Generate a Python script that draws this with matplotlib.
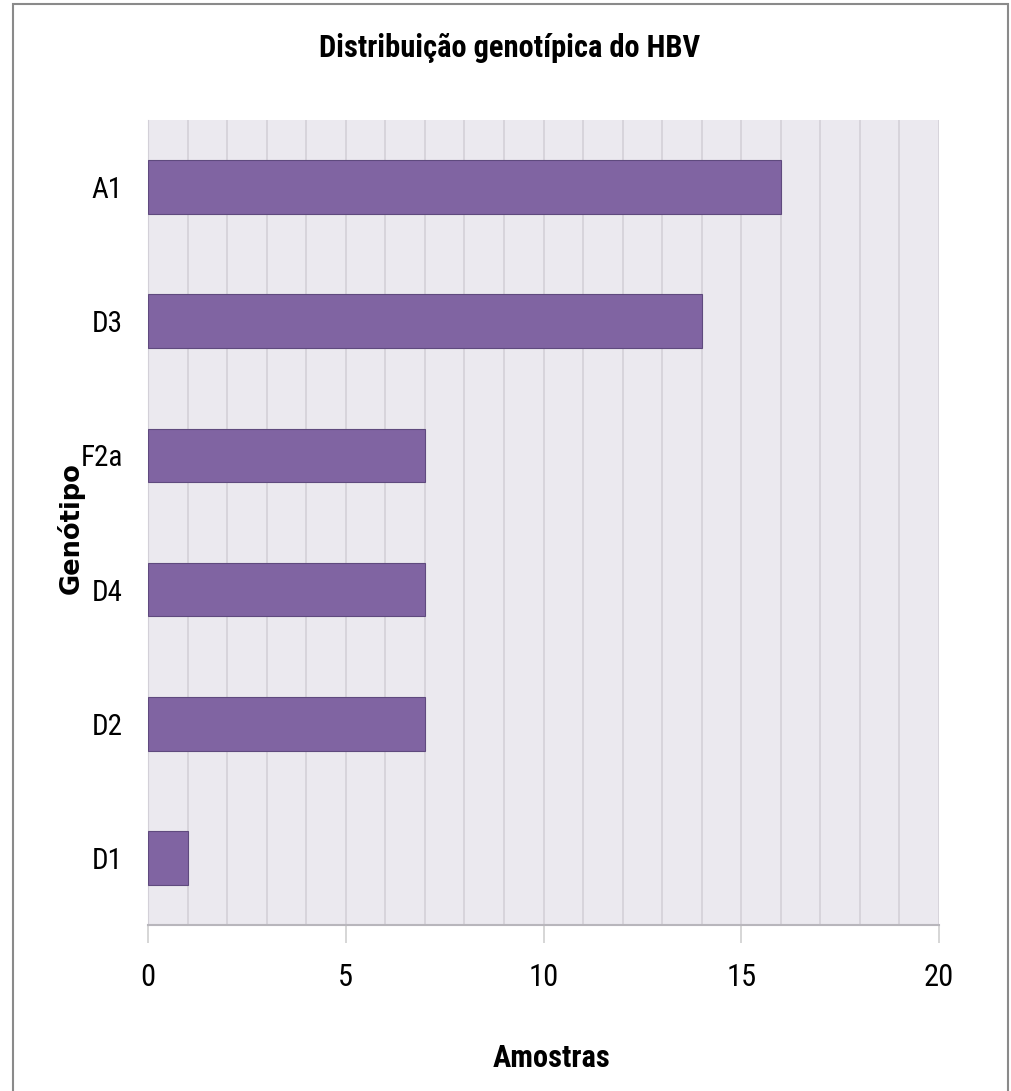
import matplotlib
matplotlib.use('Agg')
import matplotlib.pyplot as plt
from matplotlib import font_manager
from matplotlib.patches import Rectangle

# data (top to bottom as shown)
genotypes = ['A1', 'D3', 'F2a', 'D4', 'D2', 'D1']
samples = [16, 14, 7, 7, 7, 1]
xticks = [0, 5, 10, 15, 20]

# pick a narrow font if one is around
names = {f.name for f in font_manager.fontManager.ttflist}
narrow = None
for cand in ['Liberation Sans Narrow', 'Roboto Condensed', 'Open Sans Condensed',
             'Noto Sans Condensed', 'DejaVu Sans Condensed']:
    if cand in names:
        narrow = cand
        break
scale = 1.0
if narrow is None:
    narrow = 'DejaVu Sans'
    scale = 0.86
plt.rcParams['font.family'] = [narrow, 'DejaVu Sans']

fig = plt.figure(figsize=(10.11, 10.91), dpi=100)
ax = fig.add_axes([148/1011, 1 - 925/1091, 791/1011, 805/1091])

# figure border
fig.patches.append(Rectangle((13/1011, -0.01), (1008-13)/1011, 1 - 4/1091 + 0.01,
                             transform=fig.transFigure, fill=False,
                             edgecolor='#8a8a8a', linewidth=1.5))

ax.set_facecolor('#ebe9ef')
pos = list(range(len(genotypes)))[::-1]
ax.barh(pos, samples, height=0.4, color='#8064a2', edgecolor='#5f4a7e',
        linewidth=0.8, zorder=3)

ax.set_xlim(0, 20)
ax.set_ylim(-0.5, len(genotypes) - 0.5)
ax.set_yticks(pos)
ax.set_yticklabels(genotypes)
ax.set_xticks(xticks)
ax.set_xticks(range(0, 21), minor=True)
ax.grid(axis='x', which='both', color='#d3d0d8', linewidth=1.2, zorder=0)
ax.set_axisbelow(True)

for s in ['top', 'right']:
    ax.spines[s].set_visible(False)
ax.spines['left'].set_color('#d3d0d8')
ax.spines['bottom'].set_color('#b8b6bc')
ax.spines['bottom'].set_linewidth(1.5)
ax.tick_params(axis='x', which='major', length=13, width=1.2, color='#d0d0d0',
               labelsize=22 * scale, pad=14)
ax.tick_params(axis='x', which='minor', length=0)
ax.tick_params(axis='y', length=0, labelsize=21 * scale, pad=18)

fig.text(510/1011, 1 - 48/1091, 'Distribuição genotípica do HBV',
         ha='center', va='center', fontsize=22 * scale, fontweight='bold')
fig.text(552/1011, 1 - 1058/1091, 'Amostras', ha='center', va='center',
         fontsize=22 * scale, fontweight='bold')
fig.text(71/1011, 1 - 528/1091, 'Genótipo', ha='center', va='center',
         rotation=90, fontsize=18.5, fontweight='bold', family='DejaVu Sans')

fig.savefig('out.png', dpi=100)
plt.close(fig)
